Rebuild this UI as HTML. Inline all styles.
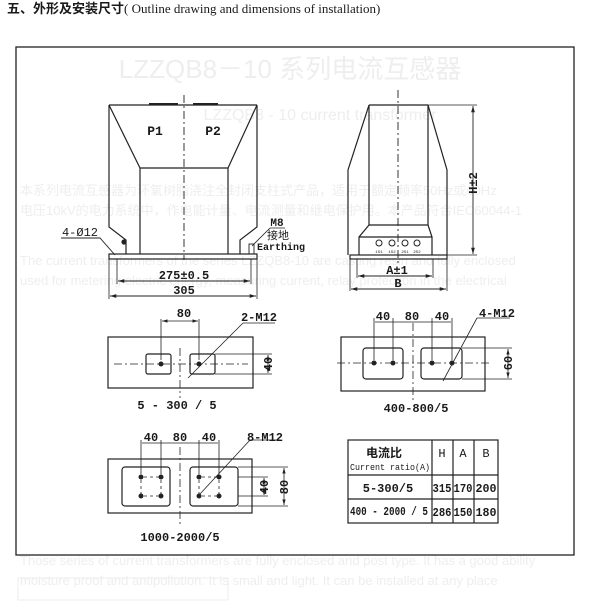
<!DOCTYPE html>
<html><head><meta charset="utf-8"><style>
html,body{margin:0;padding:0;background:#fff;width:600px;height:602px;overflow:hidden}
svg{display:block}
text{font-family:"Liberation Sans","Noto Sans CJK SC",sans-serif;fill:#1a1a1a}
.m text{font-family:"Liberation Mono","Noto Sans CJK SC",monospace;fill:#1a1a1a}
.g text{fill:#eeeeee}
</style></head><body>
<svg width="600" height="602" viewBox="0 0 600 602" xmlns="http://www.w3.org/2000/svg">
<defs>
<marker id="a" viewBox="0 0 10 10" refX="10" refY="5" markerWidth="7" markerHeight="7" orient="auto-start-reverse"><path d="M0,2 L10,5 L0,8 z" fill="#222"/></marker>
</defs>
<!-- faint bleed-through -->
<g class="g" font-size="13">
<text x="290" y="78" font-size="26" text-anchor="middle">LZZQB8－10 系列电流互感器</text>
<text x="320" y="120" font-size="16" text-anchor="middle">LZZQB8 - 10 current transformer</text>
<text x="20" y="195">本系列电流互感器为环氧树脂浇注全封闭支柱式产品，适用于额定频率50Hz或60Hz</text>
<text x="20" y="215">电压10kV的电力系统中，作电能计量、电流测量和继电保护用。本产品符合IEC60044-1</text>
<text x="20" y="265">The current transformers of the series LZZQB8-10 are casting resin and fully enclosed</text>
<text x="20" y="285">used for metering electric energy, measuring current, relay protection in the electrical</text>
<text x="20" y="565">Those series of current transformers are fully enclosed and post type. It has a good ability</text>
<text x="20" y="585">moisture proof and antipollution. It is small and light. It can be installed at any place</text>
</g>
<rect x="18" y="578" width="210" height="22" fill="none" stroke="#eeeeee"/>

<text x="7" y="13" font-size="13" font-weight="bold">五、外形及安装尺寸<tspan font-weight="normal" font-family="Liberation Serif,serif">( Outline drawing and dimensions of installation)</tspan></text>

<rect x="16" y="47" width="558" height="508" fill="none" stroke="#222" stroke-width="1.3"/>

<g stroke="#222" stroke-width="1.2" fill="none">
<path d="M109,105 H257"/>
<path d="M149,104 H178 M193,104 H218" stroke-width="2"/>
<path d="M109,105 L140,168 H228 L257,105"/>
<path d="M140,168 V254 M228,168 V254"/>
<path d="M109,105 V227 L126,240 V254 M257,105 V227 L240,240 V254"/>
<rect x="109" y="254" width="148" height="5"/>
<path d="M184,95 V260" stroke-dasharray="8,3,2,3" stroke-width="0.9"/>
<path d="M117,259 V284 M251,259 V284 M109,259 V299 M257,259 V299" stroke-width="0.8"/>
<path d="M118,281 H250" marker-start="url(#a)" marker-end="url(#a)" stroke-width="0.9"/>
<path d="M110,296 H256" marker-start="url(#a)" marker-end="url(#a)" stroke-width="0.9"/>
<path d="M61,238 H100 L115,255" stroke-width="0.9"/>
<path d="M270,228 H285 M270,228 L252,246" stroke-width="0.8"/>
<rect x="249" y="244" width="5" height="10" stroke-width="0.9"/>
<circle cx="124" cy="242" r="2" fill="#222"/>

<path d="M369,105 H428 M369,105 V225 M428,105 V225 M369,225 H428"/>
<path d="M369,105 L348,170 V255 M428,105 L447,170 V255"/>
<path d="M369,225 L359,237 V255 M428,225 L432,237 V255 M359,237 H432"/>
<rect x="350" y="255" width="97" height="4"/>
<path d="M398,90 V265" stroke-dasharray="8,3,2,3" stroke-width="0.9"/>
<path d="M428,105 H477 M447,255 H477" stroke-width="0.8"/>
<path d="M473,106 V254" marker-start="url(#a)" marker-end="url(#a)" stroke-width="0.9"/>
<path d="M357,259 V278 M433,259 V278 M350,259 V291 M447,259 V291" stroke-width="0.8"/>
<path d="M358,276 H432" marker-start="url(#a)" marker-end="url(#a)" stroke-width="0.9"/>
<path d="M351,289 H446" marker-start="url(#a)" marker-end="url(#a)" stroke-width="0.9"/>

<rect x="108" y="337" width="145" height="51"/>
<rect x="146" y="354" width="25" height="20" rx="2"/>
<rect x="190" y="354" width="25" height="20" rx="2"/>
<path d="M114,364 H248" stroke-dasharray="8,3,2,3" stroke-width="0.8"/>
<path d="M180,348 V398" stroke-dasharray="8,3,2,3" stroke-width="0.8"/>
<path d="M161,319 V360 M199,319 V360" stroke-width="0.8"/>
<path d="M162,321 H198" marker-start="url(#a)" marker-end="url(#a)" stroke-width="0.8"/>
<path d="M243,323 H275 M243,323 L188,378" stroke-width="0.8"/>
<path d="M215,354 H272 M215,374 H272" stroke-width="0.7"/>
<path d="M268,355 V373" marker-start="url(#a)" marker-end="url(#a)" stroke-width="0.8"/>

<rect x="341" y="337" width="144" height="54"/>
<rect x="363" y="348" width="40" height="31" rx="3"/>
<rect x="421" y="348" width="41" height="31" rx="3"/>
<path d="M337,363 H490" stroke-dasharray="8,3,2,3" stroke-width="0.8"/>
<path d="M413,323 V400" stroke-dasharray="8,3,2,3" stroke-width="0.8"/>
<path d="M374,318 V360 M393,318 V360 M432,318 V360 M452,318 V360" stroke-width="0.8"/>
<path d="M375,322 H451" stroke-width="0.8"/>
<path d="M477,318 H510 M477,318 L443,381" stroke-width="0.8"/>
<path d="M462,348 H512 M462,379 H512" stroke-width="0.7"/>
<path d="M508,349 V378" marker-start="url(#a)" marker-end="url(#a)" stroke-width="0.8"/>

<rect x="108" y="459" width="144" height="54"/>
<rect x="122" y="467" width="48" height="39" rx="3"/>
<rect x="190" y="467" width="48" height="39" rx="3"/>
<path d="M144,477 H160 M144,496 H160 M202,477 H218 M202,496 H218 M141,480 V494 M161,480 V494 M199,480 V494 M219,480 V494" stroke-dasharray="3,3" stroke-width="0.8"/>
<path d="M180,447 V527" stroke-dasharray="8,3,2,3" stroke-width="0.8"/>
<path d="M141,440 V474 M161,440 V474 M199,440 V474 M219,440 V474" stroke-width="0.8"/>
<path d="M142,443 H218" stroke-width="0.8"/>
<path d="M250,440 H280 M250,440 L200,494" stroke-width="0.8"/>
<path d="M238,477 H268 M238,496 H268 M238,467 H288 M238,506 H288" stroke-width="0.7"/>
<path d="M264,478 V495" marker-start="url(#a)" marker-end="url(#a)" stroke-width="0.8"/>
<path d="M284,468 V505" marker-start="url(#a)" marker-end="url(#a)" stroke-width="0.8"/>

<rect x="348" y="440" width="150" height="83"/>
<path d="M432,440 V523 M453,440 V523 M474,440 V523 M348,475 H498 M348,499 H498"/>
</g>
<g fill="#222">
<circle cx="161" cy="364" r="2.5"/><circle cx="199" cy="364" r="2.5"/>
<circle cx="374" cy="363" r="2.5"/><circle cx="393" cy="363" r="2.5"/><circle cx="432" cy="363" r="2.5"/><circle cx="452" cy="363" r="2.5"/>
<circle cx="141" cy="477" r="2.5"/><circle cx="161" cy="477" r="2.5"/><circle cx="199" cy="477" r="2.5"/><circle cx="219" cy="477" r="2.5"/>
<circle cx="141" cy="496" r="2.5"/><circle cx="161" cy="496" r="2.5"/><circle cx="199" cy="496" r="2.5"/><circle cx="219" cy="496" r="2.5"/>
</g>
<g fill="none" stroke="#222" stroke-width="1">
<circle cx="379" cy="243" r="3"/><circle cx="392" cy="243" r="3"/><circle cx="405" cy="243" r="3"/><circle cx="417" cy="243" r="3"/>
</g>

<g class="m" font-size="12" text-anchor="middle">
<text x="155" y="135" font-size="13" font-weight="bold">P1</text>
<text x="213" y="135" font-size="13" font-weight="bold">P2</text>
<text x="184" y="279" font-weight="bold">275±0.5</text>
<text x="184" y="294" font-weight="bold">305</text>
<text x="80" y="236">4-Ø12</text>
<text x="277" y="226" font-size="11" font-weight="bold">M8</text>
<text x="278" y="239" font-size="11">接地</text>
<text x="281" y="250" font-size="10" font-weight="bold">Earthing</text>
<text x="379" y="253" font-size="4">1S1</text><text x="392" y="253" font-size="4">1S2</text><text x="405" y="253" font-size="4">2S1</text><text x="417" y="253" font-size="4">2S2</text>
<text x="397" y="274" font-weight="bold">A±1</text>
<text x="398" y="287" font-weight="bold">B</text>
<text transform="translate(477,183) rotate(-90)" font-weight="bold">H±2</text>

<text x="184" y="317" font-weight="bold">80</text>
<text x="259" y="321" font-weight="bold">2-M12</text>
<text transform="translate(272,364) rotate(-90)" font-weight="bold">40</text>
<text x="177" y="409" font-weight="bold">5 - 300 / 5</text>

<text x="383" y="320" font-weight="bold">40</text><text x="412" y="320" font-weight="bold">80</text><text x="442" y="320" font-weight="bold">40</text>
<text x="497" y="317" font-weight="bold">4-M12</text>
<text transform="translate(512,363) rotate(-90)" font-weight="bold">60</text>
<text x="416" y="412" font-weight="bold">400-800/5</text>

<text x="151" y="441" font-weight="bold">40</text><text x="180" y="441" font-weight="bold">80</text><text x="209" y="441" font-weight="bold">40</text>
<text x="265" y="441" font-weight="bold">8-M12</text>
<text transform="translate(268,487) rotate(-90)" font-weight="bold">40</text>
<text transform="translate(288,487) rotate(-90)" font-weight="bold">80</text>
<text x="180" y="541" font-weight="bold">1000-2000/5</text>

<text x="384" y="457" font-weight="bold">电流比</text>
<text x="390" y="470" font-size="9" textLength="80" lengthAdjust="spacingAndGlyphs">Current ratio(A)</text>
<text x="442" y="457">H</text><text x="463" y="457">A</text><text x="486" y="457">B</text>
<text x="388" y="492" font-weight="bold">5-300/5</text>
<text x="442" y="492" font-weight="bold" textLength="19" lengthAdjust="spacingAndGlyphs">315</text><text x="463" y="492" font-weight="bold" textLength="19" lengthAdjust="spacingAndGlyphs">170</text><text x="486" y="492" font-weight="bold" textLength="21" lengthAdjust="spacingAndGlyphs">200</text>
<text x="389" y="515" font-weight="bold" textLength="78" lengthAdjust="spacingAndGlyphs">400 - 2000 / 5</text>
<text x="442" y="516" font-weight="bold" textLength="19" lengthAdjust="spacingAndGlyphs">286</text><text x="463" y="516" font-weight="bold" textLength="19" lengthAdjust="spacingAndGlyphs">150</text><text x="486" y="516" font-weight="bold" textLength="21" lengthAdjust="spacingAndGlyphs">180</text>
</g>
</svg>
</body></html>
